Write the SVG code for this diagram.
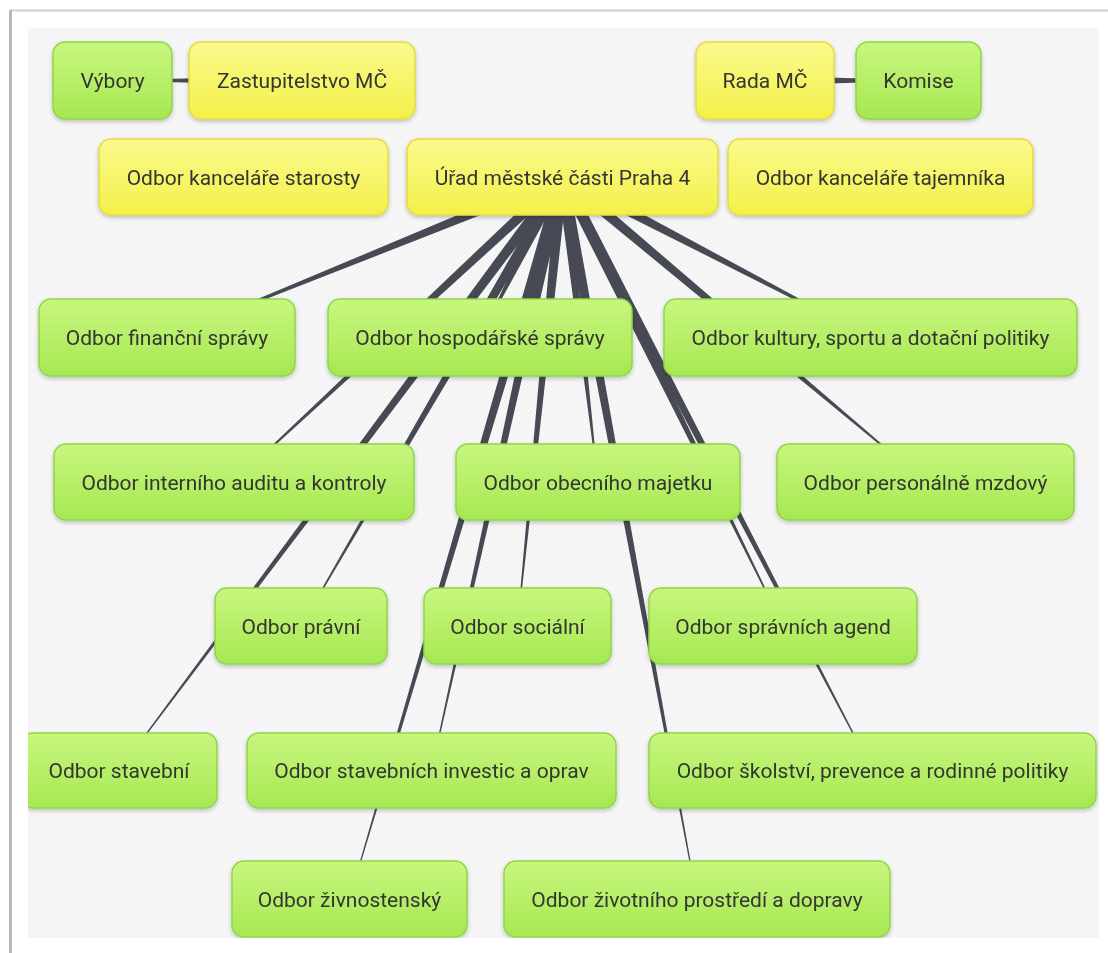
<svg xmlns="http://www.w3.org/2000/svg" width="1108" height="953" viewBox="0 0 1108 953">
<defs>
<style>
.node rect{stroke-width:1.5}
.green rect{fill:url(#gGreen);stroke:#8fd645}
.yellow rect{fill:url(#gYellow);stroke:#e2dc45}
.node text{font-family:Roboto,"Liberation Sans",sans-serif;font-size:21px;fill:#343632;text-anchor:middle}
.wedge{fill:#474a54}
</style>
<linearGradient id="gGreen" x1="0" y1="0" x2="0" y2="1">
<stop offset="0" stop-color="#c8f67f"/>
<stop offset="1" stop-color="#a6e852"/>
</linearGradient>
<linearGradient id="gYellow" x1="0" y1="0" x2="0" y2="1">
<stop offset="0" stop-color="#fafa8c"/>
<stop offset="1" stop-color="#f3f04a"/>
</linearGradient>
<pattern id="dots" width="4" height="4" patternUnits="userSpaceOnUse">
<rect width="4" height="4" fill="#f8f8f8"/>
<rect width="2" height="2" fill="#f3f3f3"/>
<rect x="2" y="2" width="2" height="2" fill="#f3f3f3"/>
</pattern>
<filter id="sh" x="-10%" y="-20%" width="120%" height="150%">
<feDropShadow dx="0" dy="2" stdDeviation="2" flood-color="#000" flood-opacity="0.22"/>
</filter>
<clipPath id="canvas"><rect x="28" y="28" width="1071" height="910"/></clipPath>
</defs>
<rect width="1108" height="953" fill="#ffffff"/>
<line x1="10" y1="10.5" x2="1108" y2="10.5" stroke="#cfcfcf" stroke-width="2"/>
<line x1="10.5" y1="10" x2="10.5" y2="953" stroke="#b8b8b8" stroke-width="3"/>
<rect x="28" y="28" width="1071" height="910" fill="url(#dots)"/>
<g clip-path="url(#canvas)">
<g id="connectors">
<polygon class="wedge" points="302,75.5 112.5,80.2 112.5,80.8 302,85.5"/>
<polygon class="wedge" points="765,75.5 918.5,80.2 918.5,80.8 765,85.5"/>
<polygon class="wedge" points="560.43,171.90 166.85,337.13 167.15,337.87 564.57,182.10"/>
<polygon class="wedge" points="557.61,174.49 479.64,337.32 480.36,337.68 567.39,179.51"/>
<polygon class="wedge" points="559.96,181.88 870.32,337.85 870.68,337.15 565.04,172.12"/>
<polygon class="wedge" points="558.76,172.97 233.73,481.71 234.27,482.29 566.24,181.03"/>
<polygon class="wedge" points="557.04,177.64 597.60,482.05 598.40,481.95 567.96,176.36"/>
<polygon class="wedge" points="558.96,181.21 925.24,482.31 925.76,481.69 566.04,172.79"/>
<polygon class="wedge" points="557.75,174.23 300.65,625.80 301.35,626.20 567.25,179.77"/>
<polygon class="wedge" points="557.03,176.45 517.10,625.96 517.90,626.04 567.97,177.55"/>
<polygon class="wedge" points="557.56,179.42 782.64,626.18 783.36,625.82 567.44,174.58"/>
<polygon class="wedge" points="558.09,173.71 118.68,770.26 119.32,770.74 566.91,180.29"/>
<polygon class="wedge" points="557.13,175.81 431.11,770.41 431.89,770.59 567.87,178.19"/>
<polygon class="wedge" points="557.62,179.55 872.15,770.69 872.85,770.31 567.38,174.45"/>
<polygon class="wedge" points="557.22,175.44 349.12,898.89 349.88,899.11 567.78,178.56"/>
<polygon class="wedge" points="557.09,178.01 696.61,899.07 697.39,898.93 567.91,175.99"/>
</g>
<g id="nodes" filter="url(#sh)">
<g id="n-vybory" class="node green"><rect x="53" y="42" width="119" height="77" rx="12"/><text x="112.5" y="88">Výbory</text></g>
<g id="n-zastupitelstvo" class="node yellow"><rect x="189" y="42" width="226" height="77" rx="12"/><text x="302" y="88">Zastupitelstvo MČ</text></g>
<g id="n-rada" class="node yellow"><rect x="696" y="42" width="138" height="77" rx="12"/><text x="765" y="88">Rada MČ</text></g>
<g id="n-komise" class="node green"><rect x="856" y="42" width="125" height="77" rx="12"/><text x="918.5" y="88">Komise</text></g>
<g id="n-starosty" class="node yellow"><rect x="99" y="139" width="289" height="76" rx="12"/><text x="243.5" y="184.5">Odbor kanceláře starosty</text></g>
<g id="n-urad" class="node yellow"><rect x="407" y="139" width="311" height="76" rx="12"/><text x="562.5" y="184.5">Úřad městské části Praha 4</text></g>
<g id="n-tajemnika" class="node yellow"><rect x="728" y="139" width="305" height="76" rx="12"/><text x="880.5" y="184.5">Odbor kanceláře tajemníka</text></g>
<g id="n-financni" class="node green"><rect x="39" y="299" width="256" height="77" rx="12"/><text x="167" y="345">Odbor finanční správy</text></g>
<g id="n-hospodarske" class="node green"><rect x="328" y="299" width="304" height="77" rx="12"/><text x="480" y="345">Odbor hospodářské správy</text></g>
<g id="n-kultury" class="node green"><rect x="664" y="299" width="413" height="77" rx="12"/><text x="870.5" y="345">Odbor kultury, sportu a dotační politiky</text></g>
<g id="n-interni" class="node green"><rect x="54" y="444" width="360" height="76" rx="12"/><text x="234" y="489.5">Odbor interního auditu a kontroly</text></g>
<g id="n-obecni" class="node green"><rect x="456" y="444" width="284" height="76" rx="12"/><text x="598" y="489.5">Odbor obecního majetku</text></g>
<g id="n-personalne" class="node green"><rect x="777" y="444" width="297" height="76" rx="12"/><text x="925.5" y="489.5">Odbor personálně mzdový</text></g>
<g id="n-pravni" class="node green"><rect x="215" y="588" width="172" height="76" rx="12"/><text x="301" y="633.5">Odbor právní</text></g>
<g id="n-socialni" class="node green"><rect x="424" y="588" width="187" height="76" rx="12"/><text x="517.5" y="633.5">Odbor sociální</text></g>
<g id="n-spravnich" class="node green"><rect x="649" y="588" width="268" height="76" rx="12"/><text x="783" y="633.5">Odbor správních agend</text></g>
<g id="n-stavebni" class="node green"><rect x="21" y="733" width="196" height="75" rx="12"/><text x="119" y="778">Odbor stavební</text></g>
<g id="n-investic" class="node green"><rect x="247" y="733" width="369" height="75" rx="12"/><text x="431.5" y="778">Odbor stavebních investic a oprav</text></g>
<g id="n-skolstvi" class="node green"><rect x="649" y="733" width="447" height="75" rx="12"/><text x="872.5" y="778">Odbor školství, prevence a rodinné politiky</text></g>
<g id="n-zivnostensky" class="node green"><rect x="232" y="861" width="235" height="76" rx="12"/><text x="349.5" y="906.5">Odbor živnostenský</text></g>
<g id="n-zivotniho" class="node green"><rect x="504" y="861" width="386" height="76" rx="12"/><text x="697" y="906.5">Odbor životního prostředí a dopravy</text></g>
</g>
</g>
</svg>
